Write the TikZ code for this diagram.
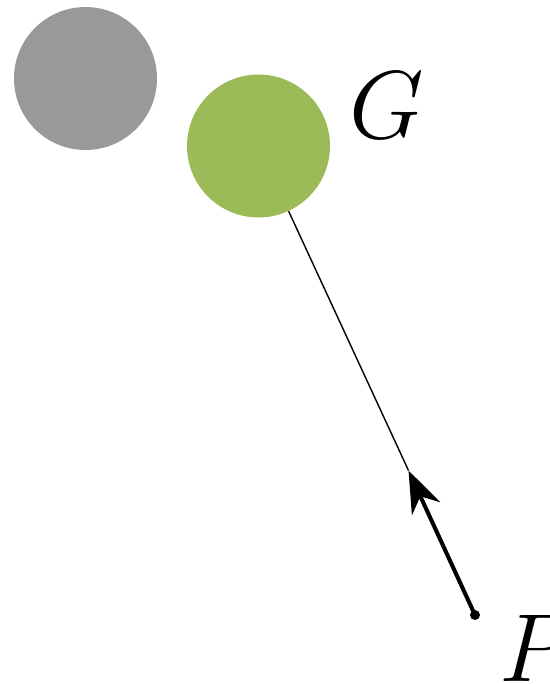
\RequirePackage{fix-cm}
\documentclass[tikz,border=0pt]{standalone}
\usepackage{xcolor}
\usepackage{tikz}
\usetikzlibrary{arrows.meta, positioning}

\definecolor{ballgreen}{HTML}{9BBB59}
\definecolor{ballgray}{HTML}{999999}

\begin{document}
\begin{tikzpicture}[
    x=0.02cm, y=-0.02cm,
    ball/.style={circle, inner sep=0pt, minimum size=2.86cm},
    biglabel/.style={anchor=base west, inner sep=0pt, font=\fontsize{55}{60}\selectfont}
]
\useasboundingbox (0,0) rectangle (549,684);
\node[ball, fill=ballgray] (M) at (85.5,78.5) {};
\node[ball, fill=ballgreen] (G) at (258.5,146) {};
\node[biglabel] (Glabel) at (349,138) {$G$};
\node[circle, fill=black, inner sep=0pt, minimum size=0.2cm] (P) at (475,615) {};
\node[biglabel] (Plabel) at (499,681) {$P$};
\coordinate (T) at (408.5,470.5);
\draw[line width=0.8pt] (G) -- (T);
\draw[line width=2.3pt, -{Stealth[length=0.84cm, width=0.62cm]}] (P.center) -- (T);
\end{tikzpicture}
\end{document}
